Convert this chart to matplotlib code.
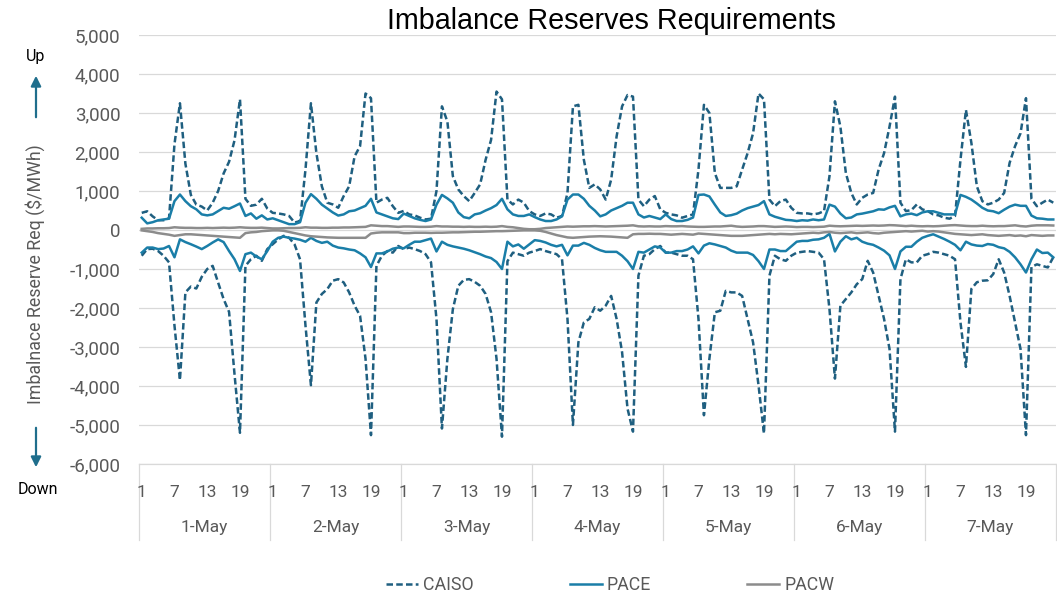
import matplotlib
matplotlib.use("Agg")
import matplotlib.pyplot as plt
import matplotlib.transforms as mtransforms
from matplotlib.lines import Line2D

# ---------------- data (hourly, 7 days x 24 hours) ----------------
days = ["1-May", "2-May", "3-May", "4-May", "5-May", "6-May", "7-May"]
hour_labels = ["1", "7", "13", "19"]
hour_label_hours = [1, 7, 13, 19]

caiso_up = [
    440, 480, 350, 250, 250, 300, 2200, 3250, 1700, 900, 650, 600, 500, 700, 1000, 1450, 1750, 2300, 3350, 800, 620, 650, 800, 550,
    440, 425, 400, 360, 190, 230, 1550, 3250, 1970, 1120, 700, 655, 570, 870, 1120, 1890, 2150, 3500, 3380, 700, 780, 825, 610, 440,
    490, 400, 375, 315, 270, 290, 1000, 3170, 2780, 1380, 1040, 870, 740, 950, 1170, 1800, 2310, 3550, 3350, 780, 655, 780, 700, 485,
    400, 360, 425, 400, 315, 360, 950, 3170, 3210, 1800, 1080, 1170, 1040, 780, 1290, 2400, 3170, 3460, 3420, 780, 610, 780, 870, 530,
    440, 400, 375, 315, 360, 400, 1550, 3210, 3000, 1460, 1080, 1080, 1080, 1120, 1550, 1970, 2480, 3500, 3350, 780, 610, 740, 780, 570,
    440, 425, 425, 400, 425, 485, 1380, 3300, 2650, 1460, 950, 655, 825, 910, 950, 1550, 1970, 2650, 3420, 700, 485, 510, 655, 530,
    485, 400, 375, 315, 290, 360, 1800, 3080, 2230, 1120, 740, 655, 700, 780, 950, 1720, 2150, 2480, 3380, 800, 610, 700, 780, 700,
]
caiso_down = [
    -660, -490, -480, -540, -660, -830, -2450, -3850, -1600, -1450, -1500, -1200, -1000, -920, -1350, -1770, -2100, -3700, -5200, -920, -750, -660, -790, -490,
    -365, -240, -150, -200, -370, -750, -2450, -3980, -1860, -1640, -1515, -1300, -1260, -1345, -1600, -1940, -2200, -3300, -5260, -920, -660, -540, -580, -410,
    -490, -450, -490, -540, -620, -830, -2280, -5090, -3300, -2030, -1430, -1280, -1260, -1330, -1430, -1640, -2110, -3300, -5300, -800, -580, -620, -660, -580,
    -540, -490, -540, -580, -620, -750, -2280, -5000, -2880, -2370, -2280, -1980, -2070, -1940, -1690, -2280, -3130, -4580, -5170, -1170, -660, -620, -490, -410,
    -580, -580, -620, -660, -660, -750, -2280, -4750, -3300, -2110, -2070, -1560, -1600, -1600, -1690, -2280, -2880, -3980, -5220, -1170, -660, -750, -790, -660,
    -580, -560, -540, -560, -580, -750, -2030, -3810, -1940, -1770, -1600, -1390, -1260, -790, -1090, -1690, -2280, -3050, -5170, -1260, -750, -830, -830, -660,
    -620, -560, -580, -620, -660, -750, -2370, -3510, -1510, -1340, -1300, -1290, -1130, -750, -1090, -1690, -2370, -3050, -5260, -950, -880, -920, -960, -700,
]
pace_up = [
    315, 170, 200, 250, 270, 290, 740, 910, 740, 610, 530, 400, 375, 400, 485, 570, 545, 610, 680, 360, 425, 290, 375, 270,
    300, 250, 200, 150, 150, 200, 700, 920, 800, 650, 550, 450, 370, 400, 480, 500, 560, 620, 800, 450, 400, 350, 300, 280,
    420, 360, 300, 260, 230, 270, 650, 900, 810, 700, 450, 330, 300, 400, 430, 500, 560, 640, 800, 530, 400, 360, 360, 400,
    330, 270, 230, 230, 270, 350, 780, 910, 910, 800, 620, 500, 350, 400, 500, 560, 620, 700, 700, 400, 320, 360, 320, 280,
    400, 280, 230, 230, 260, 320, 900, 910, 860, 650, 450, 360, 380, 420, 500, 560, 600, 640, 740, 400, 340, 300, 260, 250,
    230, 250, 240, 270, 250, 270, 650, 600, 420, 300, 320, 400, 420, 450, 480, 530, 520, 580, 620, 350, 400, 420, 380, 450,
    480, 480, 440, 400, 400, 400, 900, 850, 780, 680, 570, 500, 480, 430, 520, 600, 650, 620, 620, 370, 300, 290, 270, 270,
]
pace_down = [
    -580, -450, -450, -490, -475, -410, -700, -240, -310, -365, -425, -490, -410, -320, -240, -310, -540, -750, -1050, -620, -580, -680, -750, -540,
    -300, -200, -170, -200, -220, -250, -300, -200, -280, -330, -300, -400, -450, -470, -500, -520, -600, -700, -950, -600, -600, -550, -480, -450,
    -470, -380, -300, -300, -260, -220, -550, -300, -380, -420, -450, -480, -520, -570, -620, -680, -720, -820, -1000, -300, -420, -370, -480, -370,
    -260, -280, -320, -380, -420, -380, -650, -400, -400, -330, -380, -460, -520, -560, -560, -560, -660, -800, -1000, -560, -580, -500, -420, -450,
    -580, -580, -540, -540, -500, -420, -600, -400, -340, -370, -410, -450, -530, -580, -580, -580, -640, -800, -1000, -500, -500, -540, -540, -420,
    -300, -280, -280, -250, -240, -200, -100, -550, -300, -160, -240, -200, -300, -350, -380, -450, -530, -650, -1000, -550, -430, -430, -300, -200,
    -150, -110, -170, -230, -300, -380, -520, -300, -370, -400, -410, -360, -380, -440, -470, -560, -700, -880, -1090, -750, -500, -590, -580, -700,
]
pacw_up = [
    30, 40, 40, 45, 45, 50, 70, 60, 55, 55, 50, 50, 55, 50, 55, 60, 55, 60, 70, 60, 55, 55, 60, 50,
    40, 40, 45, 50, 50, 55, 70, 60, 60, 55, 55, 60, 60, 65, 65, 70, 75, 80, 120, 110, 100, 100, 90, 80,
    90, 90, 85, 80, 80, 85, 100, 90, 90, 85, 85, 80, 85, 80, 80, 85, 80, 85, 100, 80, 70, 50, 30, 20,
    20, 30, 50, 60, 70, 80, 90, 85, 90, 95, 95, 100, 95, 90, 95, 100, 105, 110, 120, 95, 90, 95, 90, 90,
    100, 95, 95, 100, 90, 85, 80, 80, 85, 90, 90, 100, 110, 90, 80, 85, 90, 100, 100, 90, 80, 85, 90, 85,
    75, 80, 80, 75, 80, 85, 110, 100, 95, 100, 105, 110, 105, 110, 115, 110, 115, 125, 120, 110, 100, 110, 100, 95,
    100, 95, 100, 110, 120, 125, 115, 105, 100, 100, 110, 100, 95, 100, 100, 110, 120, 100, 90, 110, 120, 120, 120, 115,
]
pacw_down = [
    -10, -30, -50, -80, -100, -120, -150, -130, -110, -110, -120, -130, -140, -150, -160, -170, -180, -190, -200, -80, -60, -50, -30, -20,
    -10, -10, -20, -50, -80, -110, -140, -160, -170, -180, -190, -195, -200, -200, -200, -200, -200, -200, -90, -70, -60, -60, -60, -60,
    -80, -80, -70, -70, -70, -75, -70, -70, -65, -60, -60, -55, -50, -45, -45, -40, -35, -30, -30, -25, -20, -15, -10, -10,
    -10, -20, -50, -90, -130, -160, -190, -200, -190, -180, -170, -165, -160, -165, -170, -180, -190, -200, -110, -100, -100, -95, -100, -100,
    -110, -120, -110, -100, -110, -120, -90, -100, -110, -120, -130, -140, -150, -150, -150, -140, -130, -120, -110, -100, -110, -100, -105, -110,
    -100, -90, -80, -70, -80, -60, -50, -70, -80, -70, -60, -80, -70, -60, -80, -90, -70, -60, -50, -40, -30, -40, -30, -20,
    -40, -30, -40, -60, -80, -100, -110, -120, -130, -120, -110, -130, -140, -150, -140, -130, -150, -140, -160, -130, -140, -150, -140, -140,
]
y_ticks = list(range(-6000, 5001, 1000))

# ---------------- style ----------------
W, H = 1057, 599
C_CAISO = "#1F5F80"
C_PACE = "#1A7EA8"
C_PACW = "#8C8C8C"
GRID = "#D9D9D9"
TXT = "#595959"
plt.rcParams["font.family"] = ["Roboto", "DejaVu Sans"]

fig = plt.figure(figsize=(W / 100, H / 100), dpi=100)
ax = fig.add_axes([139 / W, 1 - 464 / H, 917 / W, 429 / H])

n_hours = 24
n = len(days) * n_hours
x = [i + 0.5 for i in range(n)]

lw = 1.8
dash = (2.6, 1.3)
ax.plot(x, caiso_up, color=C_CAISO, lw=lw, dashes=dash, zorder=3)
ax.plot(x, caiso_down, color=C_CAISO, lw=lw, dashes=dash, zorder=3)
ax.plot(x, pace_up, color=C_PACE, lw=lw, zorder=4)
ax.plot(x, pace_down, color=C_PACE, lw=lw, zorder=4)
ax.plot(x, pacw_up, color=C_PACW, lw=lw, zorder=5)
ax.plot(x, pacw_down, color=C_PACW, lw=lw, zorder=5)

ax.set_xlim(0, n)
ax.set_ylim(-6000, 5000)
ax.set_yticks(y_ticks)
ax.set_yticklabels([f"{v:,}" for v in y_ticks], fontsize=13.5, color=TXT)
ax.tick_params(axis="y", length=0, pad=13.5)
ax.grid(axis="y", color=GRID, lw=0.9, zorder=0)
for s in ["left", "right", "top"]:
    ax.spines[s].set_visible(False)
ax.spines["bottom"].set_color(GRID)
ax.spines["bottom"].set_linewidth(0.9)

# hour tick labels
xt, xl = [], []
for d in range(len(days)):
    for h, lab in zip(hour_label_hours, hour_labels):
        xt.append(d * n_hours + h - 0.5)
        xl.append(lab)
ax.set_xticks(xt)
ax.set_xticklabels(xl, fontsize=12.5, color=TXT)
ax.tick_params(axis="x", length=0, pad=15)

# day separators and labels
trans = mtransforms.blended_transform_factory(ax.transData, ax.transAxes)
for d in range(len(days) + 1):
    ax.plot([d * n_hours, d * n_hours], [0, -0.177], transform=trans, color=GRID,
            lw=0.9, clip_on=False, zorder=1)
for d, lab in enumerate(days):
    ax.text(d * n_hours + n_hours / 2, -0.147, lab, transform=trans, ha="center",
            va="center", fontsize=12.5, color=TXT)

# title
fig.text(611 / W, 1 - 21 / H, "Imbalance Reserves Requirements", ha="center", va="center",
         fontsize=20.7, color="black", family=["Liberation Sans", "DejaVu Sans"])

# y label
fig.text(35 / W, 1 - 274 / H, "Imbalnace Reserve Req ($/MWh)", rotation=90, ha="center",
         va="center", fontsize=12.8, color=TXT)

# Up / Down arrows
fig.text(36 / W, 1 - 56 / H, "Up", ha="center", va="center", fontsize=11.5, color="black")
fig.text(38 / W, 1 - 490 / H, "Down", ha="center", va="center", fontsize=11.5, color="black")
arrow_kw = dict(arrowstyle="-|>,head_length=0.6,head_width=0.3", color="#1F6E8C", lw=1.6)
ax.annotate("", xy=(36 / W, 1 - 73 / H), xytext=(36 / W, 1 - 120 / H),
            xycoords="figure fraction", textcoords="figure fraction", arrowprops=arrow_kw)
ax.annotate("", xy=(36 / W, 1 - 470 / H), xytext=(36 / W, 1 - 425 / H),
            xycoords="figure fraction", textcoords="figure fraction", arrowprops=arrow_kw)

# legend
handles = [
    Line2D([], [], color=C_CAISO, lw=lw, dashes=dash),
    Line2D([], [], color=C_PACE, lw=lw),
    Line2D([], [], color=C_PACW, lw=lw),
]
leg = fig.legend(handles, ["CAISO", "PACE", "PACW"], loc="center", ncol=3,
                 bbox_to_anchor=(610 / W, 1 - 585 / H), frameon=False, fontsize=12.8,
                 handlelength=1.8, handletextpad=0.3, columnspacing=5.4)
for t in leg.get_texts():
    t.set_color(TXT)

fig.savefig("out.png", dpi=100)
